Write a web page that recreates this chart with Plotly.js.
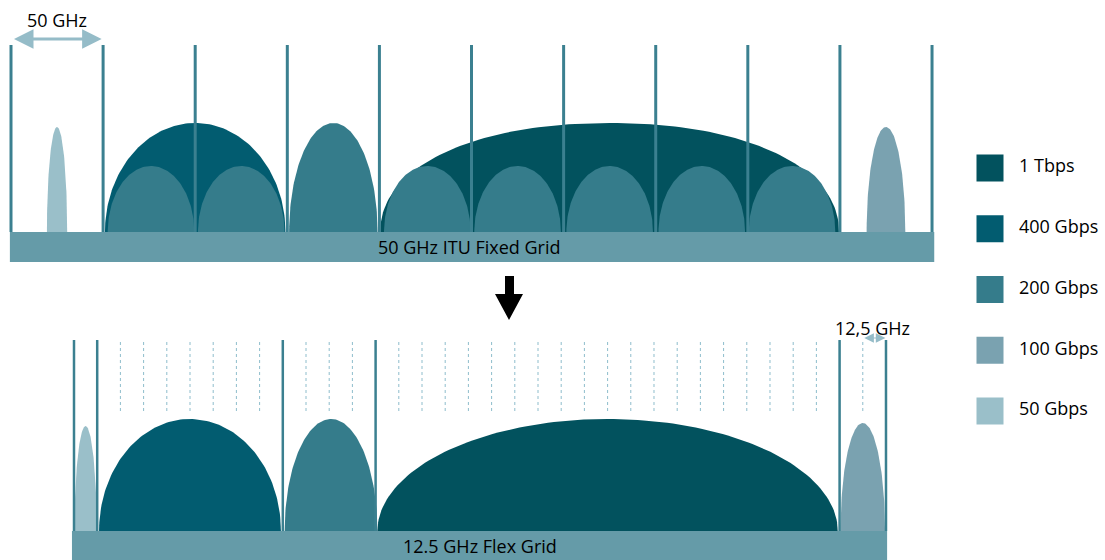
<!DOCTYPE html>
<html>
<head>
<meta charset="utf-8">
<script src="https://cdn.plot.ly/plotly-3.0.1.min.js"></script>
<style>html,body{margin:0;padding:0;background:#fff;}#chart{width:1105px;height:560px;}</style>
</head>
<body>
<div id="chart"></div>
<script>
// ---------- DATA ----------
// legend / line rates
const rates = ['1 Tbps', '400 Gbps', '200 Gbps', '100 Gbps', '50 Gbps'];
const rateColors = ['#02525e', '#025c70', '#357c8b', '#7aa2b0', '#9abfc9'];

// Fixed grid (GHz): slot edges every 50 GHz
const fixedGridEdges = [0, 50, 100, 150, 200, 250, 300, 350, 400, 450, 500];
// channels on the fixed grid
const fixedRate   = ['50 Gbps', '400 Gbps', '200 Gbps', '1 Tbps', '100 Gbps'];
const fixedCenter = [25, 100, 175, 325, 475];   // GHz
const fixedWidth  = [11, 98, 48, 249, 21];      // GHz occupied
const fixedPeak   = [105, 109, 109, 109, 105];  // relative power
// 200G sub-carriers inside the 400G and 1T channels
const fixedSubCenter = [76, 125, 226, 275, 325, 375, 424];
const fixedSubWidth  = [47, 47, 47, 47, 47, 47, 47];
const fixedSubPeak   = [66, 66, 66, 66, 66, 66, 66];

// Flex grid (GHz): slot boundaries and 12.5 GHz granularity
const flexEdges = [0, 12.5, 112.5, 162.5, 412.5, 437.5];
const flexStep = 12.5;
const flexRate   = ['50 Gbps', '400 Gbps', '200 Gbps', '1 Tbps', '100 Gbps'];
const flexCenter = [6.25, 62.5, 138.5, 287.5, 425];
const flexWidth  = [12, 98, 50, 248, 24];
const flexPeak   = [105, 112, 112, 112, 108];

const gridLabels = ['50 GHz ITU Fixed Grid', '12.5 GHz Flex Grid'];
const spacingLabels = ['50 GHz', '12,5 GHz'];

// ---------- STYLE ----------
const FONT = '"Open Sans", "DejaVu Sans", sans-serif';
const TXT = '#000';
const gridLineColor = '#3b8090';
const barColor = '#659ba8';
const lightArrow = '#95bcc8';
const dotColor = '#8ebdcc';
const colorOf = r => rateColors[rates.indexOf(r)];

function arch(c, w, h, xa, ya, color, p) {
  const xs = [], ys = [];
  const n = 120, e = p || 2;
  for (let i = 0; i <= n; i++) {
    const t = Math.PI * i / n;
    const ct = Math.cos(t), st = Math.sin(t);
    xs.push(c + (w / 2) * Math.sign(ct) * Math.pow(Math.abs(ct), 2 / e));
    ys.push(h * Math.pow(Math.abs(st), 2 / e));
  }
  return {x: xs, y: ys, xaxis: xa, yaxis: ya, type: 'scatter', mode: 'lines',
          fill: 'toself', fillcolor: color, line: {width: 0, color: color},
          hoverinfo: 'skip', showlegend: false};
}
function vlines(xs, y0, y1, xa, ya, color, width, dash) {
  const X = [], Y = [];
  xs.forEach(x => { X.push(x, x, null); Y.push(y0, y1, null); });
  return {x: X, y: Y, xaxis: xa, yaxis: ya, type: 'scatter', mode: 'lines',
          line: {color: color, width: width, dash: dash || 'solid'},
          hoverinfo: 'skip', showlegend: false};
}
function bar(x0, x1, depth, xa, ya) {
  return {x: [x0, x1, x1, x0, x0], y: [0, 0, -depth, -depth, 0], xaxis: xa, yaxis: ya,
          type: 'scatter', mode: 'lines', fill: 'toself', fillcolor: barColor,
          line: {width: 0, color: barColor}, hoverinfo: 'skip', showlegend: false};
}

const traces = [];
// --- fixed grid panel ---
const fx0 = fixedGridEdges[0], fx1 = fixedGridEdges[fixedGridEdges.length - 1];
traces.push(bar(fx0 - 0.6, fx1 + 1.2, 30, 'x', 'y'));
fixedRate.forEach((r, i) => traces.push(arch(fixedCenter[i], fixedWidth[i], fixedPeak[i], 'x', 'y', colorOf(r),
  r === '1 Tbps' ? 2.15 : 2)));
fixedSubCenter.forEach((c, i) => traces.push(arch(c, fixedSubWidth[i], fixedSubPeak[i], 'x', 'y', colorOf('200 Gbps'))));
traces.push(vlines(fixedGridEdges, 0, 187, 'x', 'y', gridLineColor, 3));

// --- flex grid panel ---
const gx0 = flexEdges[0], gx1 = flexEdges[flexEdges.length - 1];
traces.push(bar(gx0 - 1.1, gx1 + 0.6, 30, 'x2', 'y2'));
const dots = [];
for (let f = gx0 + flexStep; f < gx1; f += flexStep) {
  if (!flexEdges.some(e => Math.abs(e - f) < 1e-6)) dots.push(f);
}
traces.push(vlines(dots, 120, 191, 'x2', 'y2', dotColor, 1, '3px,3px'));
flexRate.forEach((r, i) => traces.push(arch(flexCenter[i], flexWidth[i], flexPeak[i], 'x2', 'y2', colorOf(r))));
traces.push(vlines(flexEdges, 0, 191, 'x2', 'y2', gridLineColor, 2.5));

// --- legend panel ---
traces.push({x: rates.map(() => 40), y: rates.map((r, i) => i), xaxis: 'x3', yaxis: 'y3',
  type: 'scatter', mode: 'markers', marker: {symbol: 'square', size: 27, color: rateColors, line: {width: 0}},
  hoverinfo: 'skip', showlegend: false});
traces.push({x: rates.map(() => 69), y: rates.map((r, i) => i), xaxis: 'x3', yaxis: 'y3',
  type: 'scatter', mode: 'text', text: rates, textposition: 'middle right',
  textfont: {family: FONT, size: 18, color: TXT}, hoverinfo: 'skip', showlegend: false});

const hidden = {visible: false, fixedrange: true};
const P = (px, py) => [px / 1105, 1 - py / 560];
function arrowPath() {
  const pts = [[505, 276], [514, 276], [514, 294], [523, 294], [509, 320], [495, 294], [505, 294]];
  return 'M ' + pts.map(p => P(p[0], p[1]).join(',')).join(' L ') + ' Z';
}

const layout = {
  width: 1105, height: 560,
  margin: {l: 0, r: 0, t: 0, b: 0, pad: 0},
  paper_bgcolor: '#fff', plot_bgcolor: 'rgba(0,0,0,0)',
  showlegend: false,
  xaxis:  Object.assign({range: [-5.97, 593.9], domain: [0, 1], anchor: 'y'}, hidden),
  yaxis:  Object.assign({range: [-30, 232], domain: [0.5321, 1], anchor: 'x'}, hidden),
  xaxis2: Object.assign({range: [-39.87, 555.5], domain: [0, 1], anchor: 'y2'}, hidden),
  yaxis2: Object.assign({range: [-29, 241], domain: [0, 0.4821], anchor: 'x2'}, hidden),
  xaxis3: Object.assign({range: [0, 155], domain: [950 / 1105, 1], anchor: 'y3'}, hidden),
  yaxis3: Object.assign({range: [4.5, -0.5], domain: [0.2118, 0.7543], anchor: 'x3'}, hidden),
  shapes: [{type: 'path', xref: 'paper', yref: 'paper', path: arrowPath(),
            fillcolor: '#000', line: {width: 0}}],
  annotations: [
    {x: (fx0 + fx1) / 2 - 1, y: -15, xref: 'x', yref: 'y', text: gridLabels[0], showarrow: false,
     font: {family: FONT, size: 18, color: TXT}},
    {x: (gx0 + gx1) / 2, y: -14.5, xref: 'x2', yref: 'y2', text: gridLabels[1], showarrow: false,
     font: {family: FONT, size: 18, color: TXT}},
    // 50 GHz double arrow
    {x: fixedGridEdges[1] - 0.8, y: 193, ax: fixedGridEdges[0] + 0.8, ay: 193,
     xref: 'x', yref: 'y', axref: 'x', ayref: 'y', text: '', showarrow: true,
     arrowhead: 2, startarrowhead: 2, arrowside: 'end+start', arrowsize: 1.3, startarrowsize: 1.3,
     arrowwidth: 3, arrowcolor: lightArrow},
    {x: (fixedGridEdges[0] + fixedGridEdges[1]) / 2, y: 212, xref: 'x', yref: 'y', text: spacingLabels[0],
     showarrow: false, font: {family: FONT, size: 18, color: TXT}},
    // 12,5 GHz arrow
    {x: gx1 - 0.3, y: 193, ax: gx1 - flexStep, ay: 193,
     xref: 'x2', yref: 'y2', axref: 'x2', ayref: 'y2', text: '', showarrow: true,
     arrowhead: 2, startarrowhead: 2, arrowside: 'end+start', arrowsize: 1.6, startarrowsize: 1.6,
     arrowwidth: 1.2, arrowcolor: lightArrow},
    {x: gx1 - 7.5, y: 203, xref: 'x2', yref: 'y2', text: spacingLabels[1],
     showarrow: false, font: {family: FONT, size: 18, color: TXT}}
  ]
};

Plotly.newPlot('chart', traces, layout, {displayModeBar: false, staticPlot: true});
</script>
</body>
</html>
